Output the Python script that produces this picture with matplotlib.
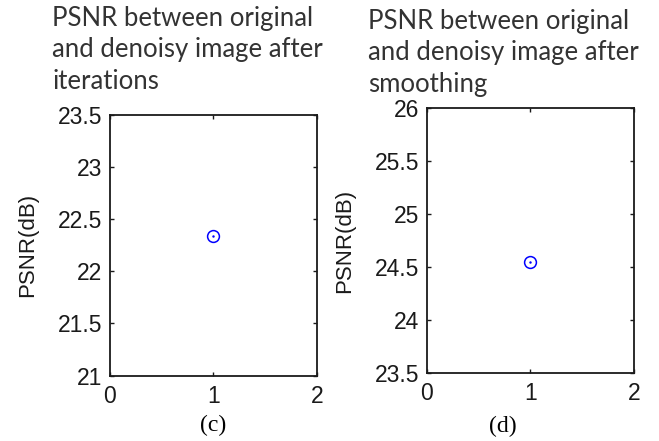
import matplotlib
matplotlib.use("Agg")
import matplotlib.pyplot as plt

# data
iters_x = [1]
iters_psnr = [22.34]
smooth_x = [1]
smooth_psnr = [24.55]

panels = [
    dict(x=iters_x, y=iters_psnr, ylim=(21, 23.5), yticks=[21, 21.5, 22, 22.5, 23, 23.5],
         title="PSNR between original\nand denoisy image after\niterations", caption="(c)",
         rect=[0.1669, 0.1483, 0.3141, 0.591], tpos=(52, 6), cpos=(213, 425)),
    dict(x=smooth_x, y=smooth_psnr, ylim=(23.5, 26), yticks=[23.5, 24, 24.5, 25, 25.5, 26],
         title="PSNR between original\nand denoisy image after\nsmoothing", caption="(d)",
         rect=[0.6475, 0.1549, 0.3146, 0.5995], tpos=(368, 9), cpos=(503, 426)),
]

W, H = 659, 441
fig = plt.figure(figsize=(W / 100, H / 100), dpi=100)

for p in panels:
    ax = fig.add_axes(p["rect"])
    ax.plot(p["x"], p["y"], 'o', mfc='none', mec='blue', ms=8.5, mew=1.1)
    ax.plot(p["x"], p["y"], '.', color='blue', ms=1.5)
    ax.set_xlim(0, 2)
    ax.set_ylim(*p["ylim"])
    ax.set_xticks([0, 1, 2])
    ax.set_yticks(p["yticks"])
    ax.set_yticklabels([f"{v:g}" for v in p["yticks"]])
    ax.tick_params(direction='in', length=3, width=1, top=True, right=True,
                   labelsize=16.5, colors='#1a1a1a')
    ax.tick_params(axis='x', pad=6.5)
    ax.tick_params(axis='y', pad=5.5)
    for lab in ax.get_xticklabels() + ax.get_yticklabels():
        lab.set_family('Liberation Sans')
        lab.set_color('#1a1a1a')
    for s in ax.spines.values():
        s.set_linewidth(1.3)
        s.set_color('#1a1a1a')
    ax.set_ylabel("PSNR(dB)", fontsize=16, family='Liberation Sans', color='#1a1a1a', labelpad=14)
    fig.text(p["tpos"][0] / W, 1 - p["tpos"][1] / H, p["title"], ha='left', va='top',
             fontsize=18.5, family='Lato', color='#333333', linespacing=1.32)
    fig.text(p["cpos"][0] / W, 1 - p["cpos"][1] / H, p["caption"], ha='center', va='center',
             fontsize=17, family='Liberation Serif', color='black')

fig.savefig("out.png", dpi=100)
